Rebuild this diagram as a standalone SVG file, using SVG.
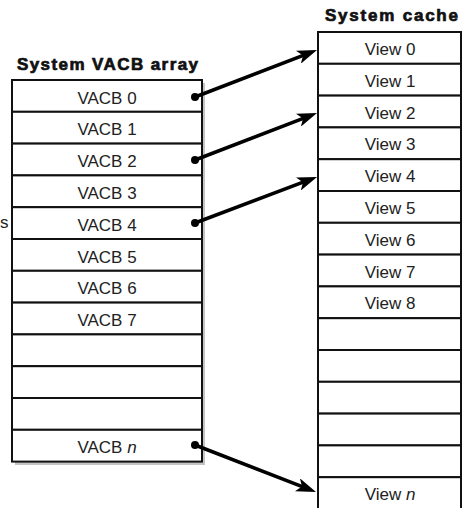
<svg xmlns="http://www.w3.org/2000/svg" width="463" height="508" viewBox="0 0 463 508">
  <style>
    .title { font-family: "Liberation Sans", Arial, sans-serif; font-weight: bold; font-size: 17px; fill: #111; stroke: #111; stroke-width: 0.7; }
    .cell { fill: #fff; stroke: #111; stroke-width: 2; }
    .label { font-family: "Liberation Sans", Arial, sans-serif; font-size: 17px; fill: #222; text-anchor: middle; }
    .margin { font-family: "Liberation Sans", Arial, sans-serif; font-size: 17px; fill: #222; }
    .shadow { fill: #c4c4c4; }
    .link { stroke: #000; stroke-width: 3.5; fill: none; marker-end: url(#head); }
    .dot { fill: #000; }
  </style>
  <defs>
    <marker id="head" viewBox="0 0 20 14" refX="8" refY="7" markerWidth="20" markerHeight="14" markerUnits="userSpaceOnUse" orient="auto">
      <path d="M0,0 L20,7 L0,14 L5,7 Z" fill="#000"/>
    </marker>
  </defs>
  <rect width="463" height="508" fill="#fff"/>

  <!-- caption fragment at the left margin -->
  <text class="margin" x="0" y="228">s</text>

  <!-- Left column: system VACB array -->
  <g id="vacb-array">
    <text class="title" x="107.5" y="70" text-anchor="middle" textLength="181" lengthAdjust="spacing">System VACB array</text>
    <rect class="shadow" x="15" y="83" width="190" height="382"/>
    <g id="vacb-0"><rect class="cell" x="12" y="80" width="190" height="31.8"/><text class="label" x="107" y="103.5">VACB 0</text></g>
    <g id="vacb-1"><rect class="cell" x="12" y="111.8" width="190" height="31.8"/><text class="label" x="107" y="135.3">VACB 1</text></g>
    <g id="vacb-2"><rect class="cell" x="12" y="143.6" width="190" height="31.8"/><text class="label" x="107" y="167.1">VACB 2</text></g>
    <g id="vacb-3"><rect class="cell" x="12" y="175.4" width="190" height="31.8"/><text class="label" x="107" y="198.9">VACB 3</text></g>
    <g id="vacb-4"><rect class="cell" x="12" y="207.2" width="190" height="31.8"/><text class="label" x="107" y="230.7">VACB 4</text></g>
    <g id="vacb-5"><rect class="cell" x="12" y="239" width="190" height="31.8"/><text class="label" x="107" y="262.5">VACB 5</text></g>
    <g id="vacb-6"><rect class="cell" x="12" y="270.8" width="190" height="31.8"/><text class="label" x="107" y="294.3">VACB 6</text></g>
    <g id="vacb-7"><rect class="cell" x="12" y="302.6" width="190" height="31.8"/><text class="label" x="107" y="326.1">VACB 7</text></g>
    <g id="vacb-8"><rect class="cell" x="12" y="334.4" width="190" height="31.8"/></g>
    <g id="vacb-9"><rect class="cell" x="12" y="366.2" width="190" height="31.8"/></g>
    <g id="vacb-10"><rect class="cell" x="12" y="398" width="190" height="31.8"/></g>
    <g id="vacb-n"><rect class="cell" x="12" y="429.8" width="190" height="31.8"/><text class="label" x="107" y="453.3">VACB <tspan font-style="italic">n</tspan></text></g>
  </g>

  <!-- Right column: system cache views -->
  <g id="system-cache">
    <text class="title" x="391.5" y="21" text-anchor="middle" textLength="133" lengthAdjust="spacing">System cache</text>
    <g id="view-0"><rect class="cell" x="318" y="32" width="143" height="31.8"/><text class="label" x="390" y="55">View 0</text></g>
    <g id="view-1"><rect class="cell" x="318" y="63.8" width="143" height="31.8"/><text class="label" x="390" y="86.8">View 1</text></g>
    <g id="view-2"><rect class="cell" x="318" y="95.6" width="143" height="31.8"/><text class="label" x="390" y="118.6">View 2</text></g>
    <g id="view-3"><rect class="cell" x="318" y="127.4" width="143" height="31.8"/><text class="label" x="390" y="150.4">View 3</text></g>
    <g id="view-4"><rect class="cell" x="318" y="159.2" width="143" height="31.8"/><text class="label" x="390" y="182.2">View 4</text></g>
    <g id="view-5"><rect class="cell" x="318" y="191" width="143" height="31.8"/><text class="label" x="390" y="214">View 5</text></g>
    <g id="view-6"><rect class="cell" x="318" y="222.8" width="143" height="31.8"/><text class="label" x="390" y="245.8">View 6</text></g>
    <g id="view-7"><rect class="cell" x="318" y="254.6" width="143" height="31.8"/><text class="label" x="390" y="277.6">View 7</text></g>
    <g id="view-8"><rect class="cell" x="318" y="286.4" width="143" height="31.8"/><text class="label" x="390" y="309.4">View 8</text></g>
    <g id="view-9"><rect class="cell" x="318" y="318.2" width="143" height="31.8"/></g>
    <g id="view-10"><rect class="cell" x="318" y="350" width="143" height="31.8"/></g>
    <g id="view-11"><rect class="cell" x="318" y="381.8" width="143" height="31.8"/></g>
    <g id="view-12"><rect class="cell" x="318" y="413.6" width="143" height="31.8"/></g>
    <g id="view-13"><rect class="cell" x="318" y="445.4" width="143" height="31.8"/></g>
    <g id="view-n"><rect class="cell" x="318" y="477.2" width="143" height="40"/><text class="label" x="390" y="500.2">View <tspan font-style="italic">n</tspan></text></g>
  </g>

  <!-- Mappings from VACB entries to views -->
  <g id="connectors">
    <circle class="dot" cx="195" cy="97" r="4"/>
    <line class="link" x1="195" y1="97" x2="305.8" y2="54.3"/>
    <circle class="dot" cx="195" cy="160" r="4"/>
    <line class="link" x1="195" y1="160" x2="305.8" y2="117.3"/>
    <circle class="dot" cx="195" cy="223" r="4"/>
    <line class="link" x1="195" y1="223" x2="305.8" y2="181.2"/>
    <circle class="dot" cx="195" cy="445" r="4"/>
    <line class="link" x1="195" y1="445" x2="304.8" y2="487.7"/>
  </g>
</svg>
